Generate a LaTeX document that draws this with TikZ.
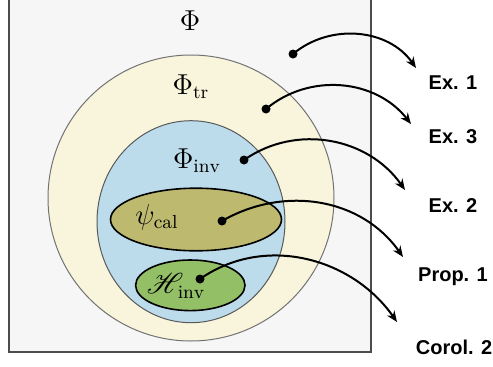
\documentclass[tikz,border=0pt]{standalone}
\usepackage{fontspec}
\setsansfont{Liberation Sans}
\usepackage{amsmath,mathrsfs}
\usetikzlibrary{positioning,arrows.meta}
\definecolor{outer}{HTML}{F6F6F6}
\definecolor{trans}{HTML}{F8F5DC}
\definecolor{invar}{HTML}{BCDCEC}
\definecolor{calib}{HTML}{BDBA70}
\definecolor{hinv}{HTML}{93BF67}
\begin{document}
\begin{tikzpicture}[x=0.5pt,y=0.5pt,
  dot/.style={circle,fill=black,inner sep=0pt,minimum size=4.5pt},
  ref/.style={font=\sffamily\bfseries\fontsize{10}{12}\selectfont},
  setlab/.style={font=\fontsize{13.5}{16}\selectfont},
  arr/.style={line width=1pt,-{Stealth[length=5.5pt,width=4.5pt]}}]
\useasboundingbox (0,0) rectangle (493,366);
\draw[fill=outer,draw=black!70,line width=0.6pt] (9,14) rectangle (371,367);
\draw[fill=trans,draw=black!55,line width=0.5pt] (191,168) circle (143);
\draw[fill=invar,draw=black!65,line width=0.5pt] (191,144.3) ellipse (94 and 101);
\draw[fill=calib,line width=0.8pt] (196,146.5) ellipse (85.5 and 31.3);
\draw[fill=hinv,line width=0.8pt] (190.3,80.7) ellipse (54.7 and 25.3);
% set labels
\node[setlab] (phi) at (190,345) {$\Phi$};
\node[setlab] (phitr) at (191,279) {$\Phi_{\mathrm{tr}}$};
\node[setlab] (phiinv) at (197,205) {$\Phi_{\mathrm{inv}}$};
\node[setlab] (psical) at (157,149) {$\psi_{\mathrm{cal}}$};
\node[setlab] (hinvlab) at (176,80) {$\mathscr{H}_{\,\mathrm{inv}}$};
% references
\node[ref] (ex1) at (453,283) {Ex. 1};
\node[ref] (ex3) at (453,229) {Ex. 3};
\node[ref] (ex2) at (453,160) {Ex. 2};
\node[ref] (prop1) at (453,89) {Prop. 1};
\node[ref] (corol2) at (454,19) {Corol. 2};
\foreach \n/\p in {1/{293,312},2/{266,257},3/{244,206},4/{222,145},5/{200,87}}{\node[dot] (d\n) at (\p) {};}
\coordinate (e1) at (416,298); \coordinate (e2) at (411,242); \coordinate (e3) at (405,176);
\coordinate (e4) at (403,109); \coordinate (e5) at (397,44);
\draw[arr] (d1.center) to[out=40,in=125] (e1);
\draw[arr] (d2.center) to[out=40,in=128] (e2);
\draw[arr] (d3.center) to[out=35,in=125] (e3);
\draw[arr] (d4.center) to[out=30,in=125] (e4);
\draw[arr] (d5.center) to[out=35,in=125] (e5);
\end{tikzpicture}
\end{document}
